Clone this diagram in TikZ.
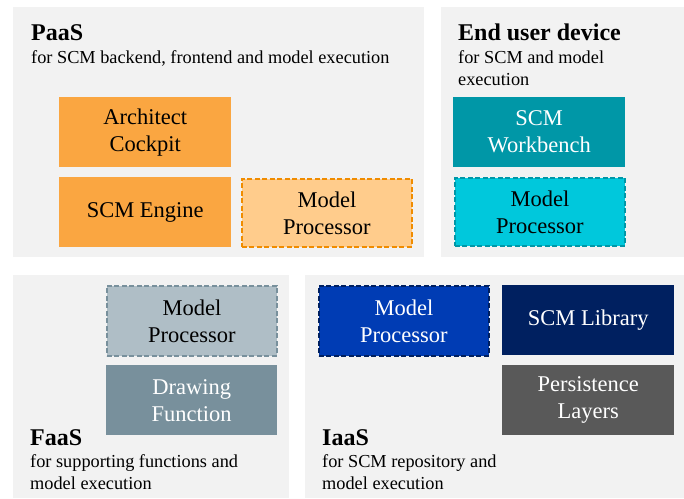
\documentclass[tikz,border=0pt]{standalone}
\usepackage{fontspec}
\setmainfont{Liberation Serif}[Extension=.ttf,UprightFont=LiberationSerif-Regular,BoldFont=LiberationSerif-Bold,ItalicFont=LiberationSerif-Italic,BoldItalicFont=LiberationSerif-BoldItalic]
\newfontfamily\tnr{LiberationSerif}[Extension=.ttf,UprightFont=*-Regular,BoldFont=*-Bold]
\begin{document}
\begin{tikzpicture}[x=1pt,y=-1pt,
  box/.style={minimum width=172pt,minimum height=70pt,inner sep=0pt,align=center,font=\tnr\fontsize{22.5}{27}\selectfont,anchor=north west},
  dbox/.style={box,draw,line width=1.8pt,dash pattern=on 5pt off 2.5pt},
  title/.style={anchor=base west,font=\tnr\fontsize{24}{26}\selectfont\bfseries,inner sep=0pt},
  sub/.style={anchor=base west,font=\tnr\fontsize{18.3}{22}\selectfont,inner sep=0pt}]
\definecolor{panelgray}{HTML}{F2F2F2}
\definecolor{orA}{HTML}{FAA641}
\definecolor{orL}{HTML}{FFCC8C}
\definecolor{orD}{HTML}{F08C00}
\definecolor{tealA}{HTML}{0097A7}
\definecolor{cyanA}{HTML}{00C8DC}
\definecolor{grL}{HTML}{AFBEC6}
\definecolor{grD}{HTML}{78909C}
\definecolor{blueA}{HTML}{003CB4}
\definecolor{navyA}{HTML}{002060}
\definecolor{darkgr}{HTML}{595959}
\useasboundingbox (0,0) rectangle (684,498);
\fill[white] (0,0) rectangle (684,498);
% panels
\fill[panelgray] (13,7) rectangle (424,257);
\fill[panelgray] (441,7) rectangle (684,257);
\fill[panelgray] (13,275) rectangle (289,498);
\fill[panelgray] (305,275) rectangle (684,498);
% titles
\node[title] (paasT) at (31,40) {PaaS};
\node[sub] (paasS) at (31,63) {for SCM backend, frontend and model execution};
\node[title] (eudT) at (458,40) {End user device};
\node[sub] (eudS1) at (458,63) {for SCM and model};
\node[sub] (eudS2) at (458,85) {execution};
\node[title] (faasT) at (30,445) {FaaS};
\node[sub] (faasS1) at (30,467) {for supporting functions and};
\node[sub] (faasS2) at (30,489) {model execution};
\node[title] (iaasT) at (322,445) {IaaS};
\node[sub] (iaasS1) at (322,467) {for SCM repository and};
\node[sub] (iaasS2) at (322,489) {model execution};
% boxes
\node[box,fill=orA] (arch) at (59,97) {Architect\\Cockpit};
\node[box,fill=orA] (eng) at (59,177) {SCM Engine};
\node[dbox,fill=orL,draw=orD,minimum width=170pt,minimum height=68pt] (mp1) at (241,178) {Model\\Processor};
\node[box,fill=tealA,text=white] (wb) at (453,97) {SCM\\Workbench};
\node[dbox,fill=cyanA,draw=tealA,minimum width=170pt,minimum height=68pt] (mp2) at (454,177) {Model\\Processor};
\node[dbox,fill=grL,draw=grD,minimum width=170pt,minimum height=70pt] (mp3) at (106,285) {Model\\Processor};
\node[box,fill=grD,text=white,minimum width=171pt] (draw) at (106,365) {Drawing\\Function};
\node[dbox,fill=blueA,draw=navyA,text=white,minimum width=170pt,minimum height=70pt] (mp4) at (318,285) {Model\\Processor};
\node[box,fill=navyA,text=white] (lib) at (502,285) {SCM Library};
\node[box,fill=darkgr,text=white] (pers) at (502,365) {Persistence\\Layers};
\end{tikzpicture}
\end{document}
